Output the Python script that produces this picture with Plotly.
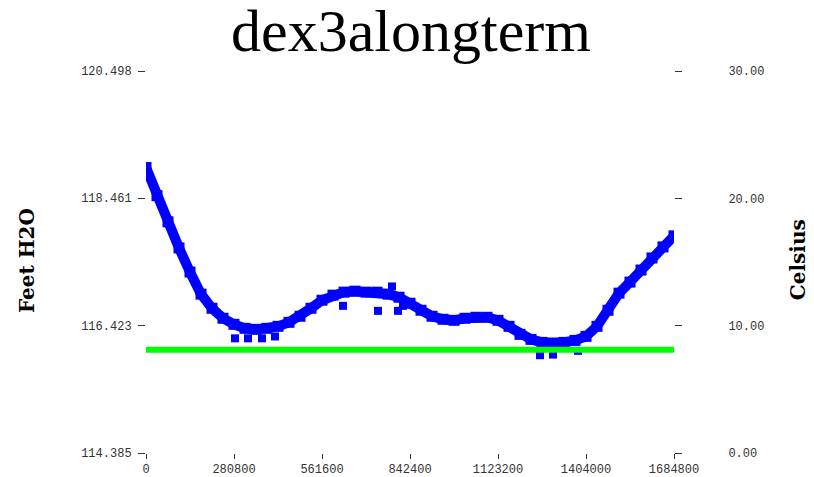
import plotly.graph_objects as go

# Main water-level series (Feet H2O)
x_main = [0, 35100, 70200, 105300, 140400, 175500, 210600, 245700, 280800, 315900,
          351000, 386100, 421200, 456300, 491400, 526500, 561600, 596700, 631800, 666900,
          702000, 737100, 772200, 807300, 842400, 877500, 912600, 947700, 982800, 1017900,
          1053000, 1088100, 1123200, 1158300, 1193400, 1228500, 1263600, 1298700, 1333800, 1368900,
          1404000, 1439100, 1474200, 1509300, 1544400, 1579500, 1614600, 1649700, 1684800]
feet_main = [118.954, 118.503, 118.085, 117.667, 117.281, 116.927, 116.701, 116.541, 116.444, 116.380,
             116.364, 116.380, 116.412, 116.476, 116.573, 116.701, 116.830, 116.911, 116.959, 116.975,
             116.959, 116.959, 116.927, 116.878, 116.782, 116.669, 116.573, 116.525, 116.508, 116.541,
             116.557, 116.557, 116.508, 116.412, 116.283, 116.203, 116.155, 116.138, 116.155, 116.187,
             116.251, 116.412, 116.669, 116.943, 117.120, 117.313, 117.506, 117.683, 117.860]

# Scattered outlying readings
x_out = [284000, 325500, 370100, 411600, 628600, 740300, 804100, 785000, 1257200, 1298700, 1378500, 820100]
feet_out = [116.22, 116.22, 116.22, 116.25, 116.74, 116.66, 116.66, 117.05, 115.95, 115.96, 116.02, 116.74]

# Temperature series (Celsius)
x_temp = [0, 1684800]
celsius = [8.1, 8.1]

left_ticks = [114.385, 116.423, 118.461, 120.498]
left_labels = ["114.385", "116.423", "118.461", "120.498"]
right_ticks = [0, 10, 20, 30]
right_labels = ["0.00", "10.00", "20.00", "30.00"]
x_ticks = [0, 280800, 561600, 842400, 1123200, 1404000, 1684800]
x_labels = ["0", "280800", "561600", "842400", "1123200", "1404000", "1684800"]

mono = dict(family="Liberation Mono", size=12, color="#333")

fig = go.Figure()
fig.add_trace(go.Scatter(x=x_temp, y=celsius, yaxis="y2", mode="lines",
                         line=dict(color="#00ff00", width=6), showlegend=False))
fig.add_trace(go.Scatter(x=x_main, y=feet_main, mode="lines+markers",
                         line=dict(color="#0000ff", width=10),
                         marker=dict(symbol="square", size=11, color="#0000ff"),
                         showlegend=False))
fig.add_trace(go.Scatter(x=x_out, y=feet_out, mode="markers",
                         marker=dict(symbol="square", size=8, color="#0000ff"),
                         showlegend=False))

# the page body has an 8px default margin, so the figure is sized 8px smaller
fig.update_layout(
    width=806, height=469,
    margin=dict(l=138, r=140, t=63, b=24, autoexpand=False),
    paper_bgcolor="white", plot_bgcolor="white",
    title=dict(text="dex3alongterm", x=0.5, xanchor="center", y=0.953, yanchor="middle",
               yref="container", font=dict(family="Liberation Serif", size=60, color="black")),
    xaxis=dict(range=[0, 1684800], tickmode="array", tickvals=x_ticks, ticktext=x_labels,
               ticks="outside", ticklen=5, tickcolor="#333", showgrid=False, zeroline=False,
               showline=False, tickfont=mono, automargin=False),
    yaxis=dict(range=[114.385, 120.498], tickmode="array", tickvals=left_ticks, ticktext=left_labels,
               ticks="outside", ticklen=7, tickcolor="#333", showgrid=False, zeroline=False,
               showline=False, tickfont=mono, ticklabelstandoff=4, automargin=False),
    yaxis2=dict(range=[0, 30], overlaying="y", side="right", tickmode="array",
                tickvals=right_ticks, ticktext=right_labels, ticks="outside", ticklen=7,
                tickcolor="#333", showgrid=False, zeroline=False, showline=False,
                tickfont=mono, ticklabelstandoff=44, automargin=False),
    annotations=[
        dict(text="<b>Feet H2O</b>", xref="paper", yref="paper", x=-0.2254, y=0.505,
             textangle=-90, showarrow=False, xanchor="center", yanchor="middle",
             font=dict(family="DejaVu Serif", size=20, color="black")),
        dict(text="<b>Celsius</b>", xref="paper", yref="paper", x=1.235, y=0.505,
             textangle=-90, showarrow=False, xanchor="center", yanchor="middle",
             font=dict(family="DejaVu Serif", size=20, color="black")),
    ],
)

fig.write_html("out.html")
